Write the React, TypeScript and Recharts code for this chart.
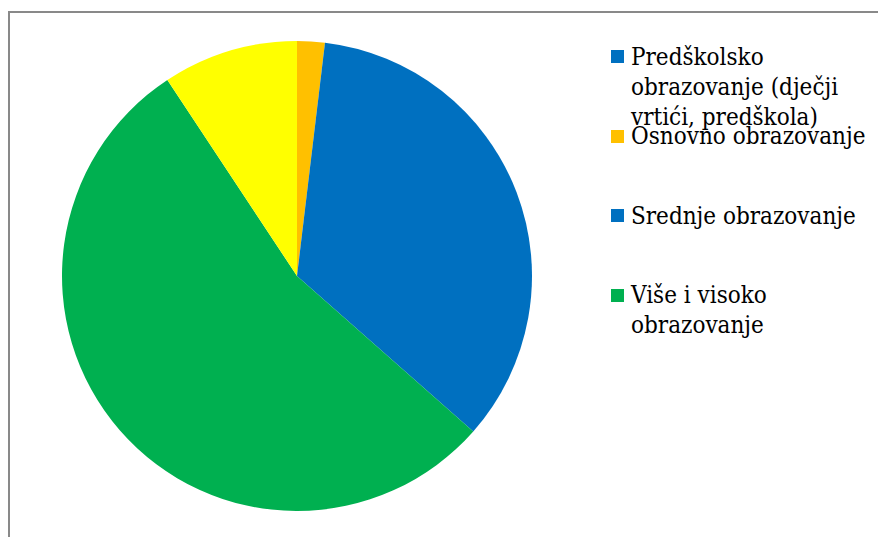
import { PieChart, Pie, Cell, Legend } from "recharts";

// slice order, clockwise from 12 o'clock
const sliceNames = [
  "Osnovno obrazovanje",
  "Srednje obrazovanje",
  "Više i visoko obrazovanje",
  "Ostalo",
];
const sliceValues = [1.9, 34.6, 54.2, 9.3];
const sliceColors = ["#FFC000", "#0070C0", "#00B050", "#FFFF00"];

const legendLabels = [
  "Predškolsko\nobrazovanje (dječji\nvrtići, predškola)",
  "Osnovno obrazovanje",
  "Srednje obrazovanje",
  "Više i visoko\nobrazovanje",
];
const legendColors = ["#0070C0", "#FFC000", "#0070C0", "#00B050"];

const chartData = sliceNames.map((name, i) => ({ name, value: sliceValues[i] }));

// Liberation Serif doesn't resolve here, condensed DejaVu is closest in width
const serif = "'DejaVu Serif Condensed', 'DejaVu Serif', serif";

const LegendBox = () => (
  <div style={{ position: "relative", width: 260, height: 330 }}>
    {legendLabels.map((label, i) => (
      <div
        key={label}
        style={{
          position: "absolute",
          left: 0,
          top: i * 79.5,
          display: "flex",
          alignItems: "flex-start",
        }}
      >
        <span
          style={{
            display: "inline-block",
            width: 13,
            height: 13,
            marginTop: 8.5,
            marginRight: 7,
            background: legendColors[i],
            flexShrink: 0,
          }}
        />
        <span
          style={{
            fontFamily: serif,
            fontSize: 24,
            lineHeight: "30px",
            color: "#000",
            whiteSpace: "pre",
          }}
        >
          {label}
        </span>
      </div>
    ))}
  </div>
);

export default function App() {
  return (
    <div
      style={{
        position: "absolute",
        left: 8,
        top: 11,
        width: 880,
        height: 540,
        borderTop: "2px solid #898989",
        borderLeft: "2px solid #898989",
        background: "#fff",
      }}
    >
      <PieChart width={870} height={525} margin={{ top: 0, right: 0, bottom: 0, left: 0 }}>
        <Pie
          data={chartData}
          dataKey="value"
          nameKey="name"
          cx={287}
          cy={263}
          outerRadius={235}
          startAngle={90}
          endAngle={-270}
          stroke="none"
          isAnimationActive={false}
        >
          {chartData.map((entry, index) => (
            <Cell key={`cell-${index}`} fill={sliceColors[index]} />
          ))}
        </Pie>
        <Legend
          layout="vertical"
          content={() => <LegendBox />}
          wrapperStyle={{ left: 601, top: 28.6, width: 260 }}
        />
      </PieChart>
    </div>
  );
}
